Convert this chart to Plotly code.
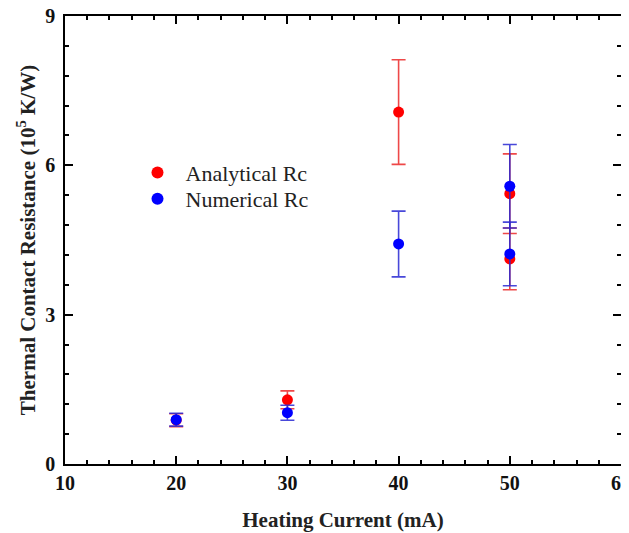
import plotly.graph_objects as go

current = [20, 30, 40, 50, 50]
analytical = [0.88, 1.29, 7.07, 5.43, 4.12]
analytical_err = [0.13, 0.18, 1.05, 0.80, 0.62]
numerical = [0.89, 1.03, 4.42, 5.58, 4.22]
numerical_err = [0.13, 0.15, 0.66, 0.84, 0.64]

x_ticks = [10, 20, 30, 40, 50, 60]
y_ticks = [0, 3, 6, 9]

font_family = "Liberation Serif, Times New Roman, serif"

fig = go.Figure()
fig.add_trace(go.Scatter(
    x=current, y=analytical, mode="markers", name="Analytical Rc", legend="legend",
    marker=dict(color="#ff0000", size=11),
    error_y=dict(type="data", array=analytical_err, color="rgba(235,40,40,0.85)", thickness=1.6, width=7),
))
fig.add_trace(go.Scatter(
    x=current, y=numerical, mode="markers", name="Numerical Rc", legend="legend2",
    marker=dict(color="#0000ff", size=11),
    error_y=dict(type="data", array=numerical_err, color="rgba(40,40,210,0.85)", thickness=1.6, width=7),
))

axis_common = dict(
    showline=True, linecolor="black", linewidth=1.5, mirror="ticks",
    ticks="inside", ticklen=8, tickwidth=1.5, tickcolor="black",
    showgrid=False, zeroline=False, automargin=False, ticklabeloverflow="allow",
    tickfont=dict(family=font_family, size=20, color="#111", weight="bold"),
)

legend_common = dict(
    xanchor="left", yanchor="middle", bgcolor="rgba(0,0,0,0)",
    font=dict(family=font_family, size=22, color="#222"),
    itemsizing="constant", itemwidth=46, borderwidth=0,
)

fig.update_layout(
    width=629, height=525,
    margin=dict(l=57, r=16, t=8, b=69),
    paper_bgcolor="white", plot_bgcolor="white",
    font=dict(family=font_family, color="black"),
    showlegend=True,
    legend=dict(x=0.116, y=0.65, **legend_common),
    legend2=dict(x=0.116, y=0.5915, **legend_common),
    xaxis=dict(
        range=[10, 60], tickvals=x_ticks,
        minor=dict(dtick=2, ticks="inside", ticklen=4, tickwidth=1.5, tickcolor="black"),
        title=dict(text="<b>Heating Current (mA)</b>", font=dict(family=font_family, size=21, color="#222"), standoff=20),
        **axis_common,
    ),
    yaxis=dict(
        range=[0, 9], tickvals=y_ticks, ticklabelstandoff=4,
        minor=dict(dtick=0.6, ticks="inside", ticklen=4, tickwidth=1.5, tickcolor="black"),
        title=dict(text="<b>Thermal Contact Resistance (10<sup>5</sup> K/W)</b>", font=dict(family=font_family, size=21, color="#222"), standoff=4),
        **axis_common,
    ),
)

fig.write_html("out.html")
